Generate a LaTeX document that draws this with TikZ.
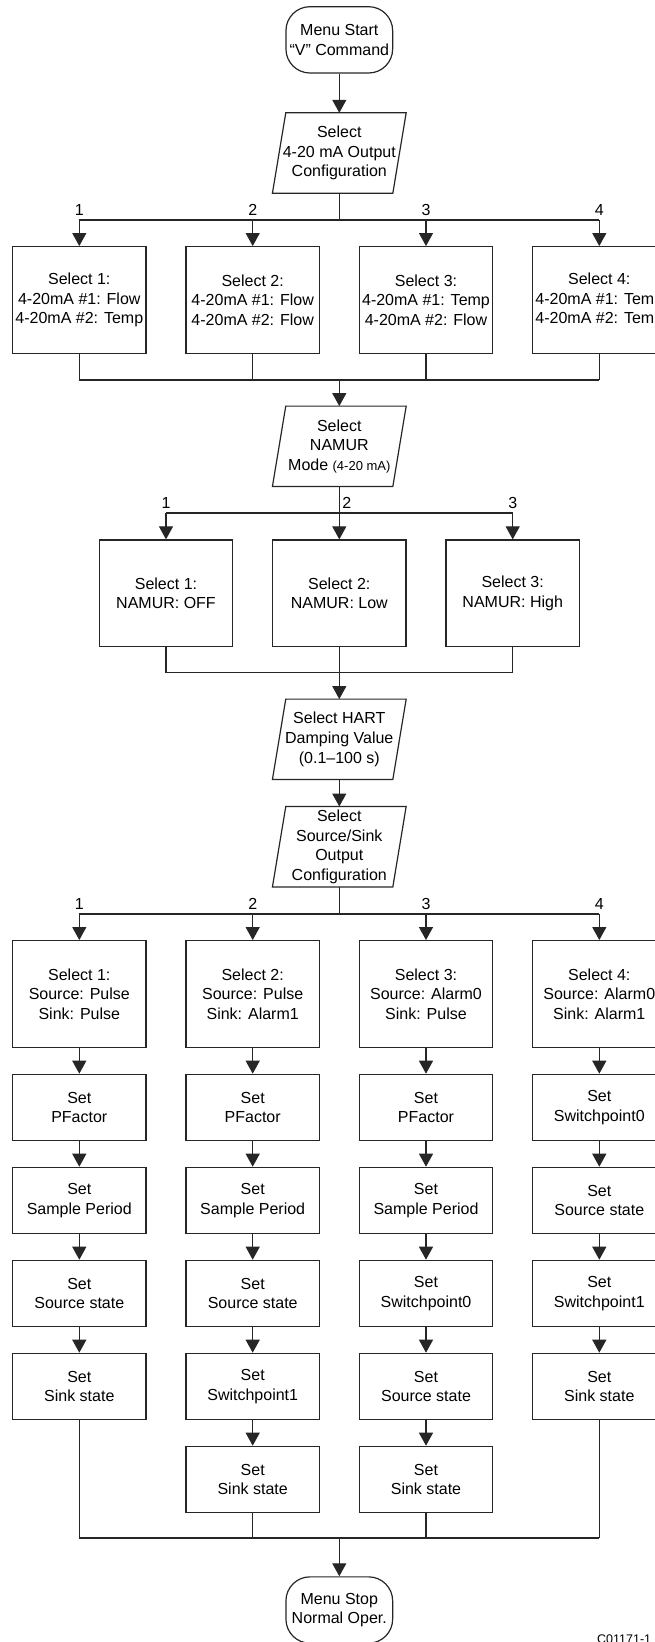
\documentclass[tikz,border=0pt]{standalone}
\usepackage{fontspec}
\setmainfont{Liberation Sans}
\usetikzlibrary{arrows.meta}
\begin{document}
\begin{tikzpicture}[x=1pt,y=-1pt,
  line/.style={line width=1.2pt, draw=black!85},
  arr/.style={line, -{Triangle[length=13pt,width=14pt]}},
  txt/.style={font=\fontsize{16}{19.6}\selectfont, align=center, inner sep=0pt},
  selbox/.style={txt, draw=black!85, line width=1.2pt, minimum width=133.3pt, minimum height=106.7pt},
  setbox/.style={txt, draw=black!85, line width=1.2pt, minimum width=133.3pt, minimum height=66pt},
  para/.style={txt, minimum width=120pt, minimum height=80pt},
  term/.style={txt, draw=black!85, line width=1.2pt, rounded corners=24pt, minimum width=106.7pt, minimum height=66.3pt},
  lbl/.style={font=\fontsize{16}{19.6}\selectfont, inner sep=0pt, anchor=base},
]
\useasboundingbox (0,0) rectangle (655,1642);
\clip (0,0) rectangle (655,1642);

% ---------- start ----------
\node[term] (start) at (339.3,39.85) {Menu Start\\“V” Command};
\node[para] (p1) at (339.3,153) {Select\\4-20 mA Output\\Configuration};

% ---------- 4-20 mA output configuration ----------
\node[selbox] (t1) at (79.3,300) {Select 1:\\4-20mA \#1: Flow\\4-20mA \#2: Temp};
\node[selbox] (t2) at (252.7,300) {Select 2:\\4-20mA \#1: Flow\\4-20mA \#2: Flow};
\node[selbox] (t3) at (426,300) {Select 3:\\4-20mA \#1: Temp\\4-20mA \#2: Flow};
\node[selbox] (t4) at (599.3,300) {Select 4:\\4-20mA \#1: Temp\\4-20mA \#2: Temp};

% ---------- NAMUR ----------
\node[para] (p2) at (339.3,446.3) {Select\\NAMUR\\Mode {\fontsize{13}{19.6}\selectfont(4-20 mA)}};
\node[selbox] (n1) at (166,593.3) {Select 1:\\NAMUR: OFF};
\node[selbox] (n2) at (339.3,593.3) {Select 2:\\NAMUR: Low};
\node[selbox] (n3) at (512.7,593.3) {Select 3:\\NAMUR: High};

% ---------- HART / source-sink ----------
\node[para] (p3) at (339.3,739.3) {Select HART\\Damping Value\\(0.1–100 s)};
\node[para] (p4) at (339.3,846.7) {Select\\Source/Sink\\Output\\Configuration};

% column 1
\node[selbox] (s1) at (79.3,994) {Select 1:\\Source: Pulse\\Sink: Pulse};
\node[setbox] (a1) at (79.3,1107.3) {Set\\PFactor};
\node[setbox] (a2) at (79.3,1200.3) {Set\\Sample Period};
\node[setbox] (a3) at (79.3,1293.3) {Set\\Source state};
\node[setbox] (a4) at (79.3,1386.3) {Set\\Sink state};
% column 2
\node[selbox] (s2) at (252.7,994) {Select 2:\\Source: Pulse\\Sink: Alarm1};
\node[setbox] (b1) at (252.7,1107.3) {Set\\PFactor};
\node[setbox] (b2) at (252.7,1200.3) {Set\\Sample Period};
\node[setbox] (b3) at (252.7,1293.3) {Set\\Source state};
\node[setbox] (b4) at (252.7,1386.3) {Set\\Switchpoint1};
\node[setbox] (b5) at (252.7,1479.3) {Set\\Sink state};
% column 3
\node[selbox] (s3) at (426,994) {Select 3:\\Source: Alarm0\\Sink: Pulse};
\node[setbox] (c1) at (426,1107.3) {Set\\PFactor};
\node[setbox] (c2) at (426,1200.3) {Set\\Sample Period};
\node[setbox] (c3) at (426,1293.3) {Set\\Switchpoint0};
\node[setbox] (c4) at (426,1386.3) {Set\\Source state};
\node[setbox] (c5) at (426,1479.3) {Set\\Sink state};
% column 4
\node[selbox] (s4) at (599.3,994) {Select 4:\\Source: Alarm0\\Sink: Alarm1};
\node[setbox] (d1) at (599.3,1107.3) {Set\\Switchpoint0};
\node[setbox] (d2) at (599.3,1200.3) {Set\\Source state};
\node[setbox] (d3) at (599.3,1293.3) {Set\\Switchpoint1};
\node[setbox] (d4) at (599.3,1386.3) {Set\\Sink state};

\node[term] (stop) at (339.3,1610) {Menu Stop\\Normal Oper.};

% parallelogram outlines
\foreach \p in {p1,p2,p3,p4}
  \draw[line] ([xshift=6.67pt]\p.north west) -- ([xshift=6.67pt]\p.north east)
     -- ([xshift=-6.67pt]\p.south east) -- ([xshift=-6.67pt]\p.south west) -- cycle;

% ---------- connectors ----------
\coordinate (br1) at (339.3,220);
\coordinate (mg1) at (339.3,380);
\coordinate (br2) at (339.3,513);
\coordinate (mg2) at (339.3,672.7);
\coordinate (br3) at (339.3,914);
\coordinate (mg3) at (339.3,1538);

\draw[arr] (start) -- (p1);
\draw[line] (p1.south) -- (br1);
\draw[line] (t1.north |- br1) -- (t4.north |- br1);
\foreach \n in {t1,t2,t3,t4} \draw[arr] (\n.north |- br1) -- (\n.north);
\draw[line] (t1.south |- mg1) -- (t4.south |- mg1);
\foreach \n in {t1,t2,t3,t4} \draw[line] (\n.south) -- (\n.south |- mg1);
\draw[arr] (mg1) -- (p2.north);

\draw[line] (p2.south) -- (br2);
\draw[line] (n1.north |- br2) -- (n3.north |- br2);
\foreach \n in {n1,n2,n3} \draw[arr] (\n.north |- br2) -- (\n.north);
\draw[line] (n1.south |- mg2) -- (n3.south |- mg2);
\foreach \n in {n1,n2,n3} \draw[line] (\n.south) -- (\n.south |- mg2);
\draw[arr] (mg2) -- (p3.north);
\draw[arr] (p3.south) -- (p4.north);

\draw[line] (p4.south) -- (br3);
\draw[line] (s1.north |- br3) -- (s4.north |- br3);
\foreach \n in {s1,s2,s3,s4} \draw[arr] (\n.north |- br3) -- (\n.north);

\draw[arr] (s1) -- (a1); \draw[arr] (a1) -- (a2); \draw[arr] (a2) -- (a3); \draw[arr] (a3) -- (a4);
\draw[arr] (s2) -- (b1); \draw[arr] (b1) -- (b2); \draw[arr] (b2) -- (b3); \draw[arr] (b3) -- (b4); \draw[arr] (b4) -- (b5);
\draw[arr] (s3) -- (c1); \draw[arr] (c1) -- (c2); \draw[arr] (c2) -- (c3); \draw[arr] (c3) -- (c4); \draw[arr] (c4) -- (c5);
\draw[arr] (s4) -- (d1); \draw[arr] (d1) -- (d2); \draw[arr] (d2) -- (d3); \draw[arr] (d3) -- (d4);

\draw[line] (a4.south |- mg3) -- (d4.south |- mg3);
\foreach \n in {a4,b5,c5,d4} \draw[line] (\n.south) -- (\n.south |- mg3);
\draw[arr] (mg3) -- (stop.north);

% ---------- branch labels ----------
\node[lbl] (l11) at (79.3,215) {1};
\node[lbl] (l12) at (252.7,215) {2};
\node[lbl] (l13) at (426,215) {3};
\node[lbl] (l14) at (599.3,215) {4};
\node[lbl] (l21) at (166,508.5) {1};
\node[lbl] (l22) at (346.7,508.5) {2};
\node[lbl] (l23) at (512.7,508.5) {3};
\node[lbl] (l31) at (79.3,909.5) {1};
\node[lbl] (l32) at (252.7,909.5) {2};
\node[lbl] (l33) at (426,909.5) {3};
\node[lbl] (l34) at (599.3,909.5) {4};

\node[font=\fontsize{12.5}{14}\selectfont, anchor=base west, inner sep=0pt] (code) at (597,1643) {C01171-1};
\end{tikzpicture}
\end{document}
